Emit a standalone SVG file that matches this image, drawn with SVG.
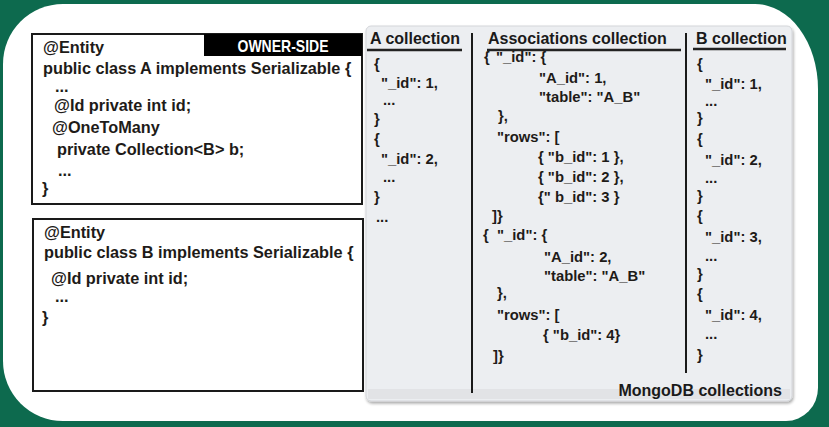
<svg xmlns="http://www.w3.org/2000/svg" width="829" height="427" viewBox="0 0 829 427">
<style>
.code{font-family:"Liberation Sans",Arial,sans-serif;font-weight:bold;font-size:16.3px;fill:#1e1b18}
.json{font-family:"Liberation Sans",Arial,sans-serif;font-weight:bold;font-size:14.8px;fill:#1e1b18}
.hdr{font-family:"Liberation Sans",Arial,sans-serif;font-weight:bold;font-size:16px;fill:#1a1a1a}
.box{fill:#fff;stroke:#1a1a1a;stroke-width:2}
.rule{stroke:#222;stroke-width:2.5}
.sep{stroke:#1a1a1a;stroke-width:2}
</style>
<defs>
<filter id="sh" x="-5%" y="-5%" width="110%" height="110%">
<feGaussianBlur in="SourceAlpha" stdDeviation="1.5"/>
<feOffset dx="1" dy="2"/>
<feComponentTransfer><feFuncA type="linear" slope="0.35"/></feComponentTransfer>
<feMerge><feMergeNode/><feMergeNode in="SourceGraphic"/></feMerge>
</filter>
</defs>
<rect width="829" height="427" fill="#0d6a4e"/>
<path d="M63,4 H755 A63 85 0 0 1 818 89 V388 A32 33 0 0 1 786 421 H63 A60 60 0 0 1 3 361 V64 A60 60 0 0 1 63 4 Z" fill="#fff"/>

<g id="classA">
<rect class="box" x="32" y="34" width="330" height="170"/>
<rect x="204" y="34" width="158" height="22" fill="#000"/>
<text x="283" y="52" text-anchor="middle" font-family="Liberation Sans Narrow,Liberation Sans,Arial,sans-serif" font-weight="bold" font-size="17" fill="#fff" textLength="91" lengthAdjust="spacingAndGlyphs">OWNER-SIDE</text>
<text class="code" x="43" y="53">@Entity</text>
<text class="code" x="43" y="74">public class A implements Serializable {</text>
<text class="code" x="55" y="92">...</text>
<text class="code" x="54" y="111">@Id private int id;</text>
<text class="code" x="52" y="133">@OneToMany</text>
<text class="code" x="57" y="155">private Collection&lt;B&gt; b;</text>
<text class="code" x="58" y="176">...</text>
<text class="code" x="42" y="194">}</text>
</g>

<g id="classB">
<rect class="box" x="33" y="219" width="330" height="172"/>
<text class="code" x="44" y="238">@Entity</text>
<text class="code" x="44" y="258">public class B implements Serializable {</text>
<text class="code" x="51" y="284">@Id private int id;</text>
<text class="code" x="55" y="302">...</text>
<text class="code" x="42" y="323">}</text>
</g>

<g id="mongo">
<rect x="366" y="26" width="426" height="375" rx="5" fill="#eceef1" stroke="#d4d6da" filter="url(#sh)"/>
<rect x="368" y="389" width="422" height="10" fill="#e2e3e6"/>
<text class="hdr" x="782" y="396" text-anchor="end" font-size="15.5">MongoDB collections</text>
</g>

<g id="connectors">
<line class="sep" x1="472" y1="33" x2="472" y2="393"/>
<line class="sep" x1="686" y1="33" x2="686" y2="373"/>
<line class="rule" x1="367" y1="50" x2="462" y2="50"/>
<line class="rule" x1="487" y1="50" x2="681" y2="50"/>
<line class="rule" x1="693" y1="49" x2="786" y2="49"/>
</g>

<g id="colA">
<text class="hdr" x="370" y="44">A collection</text>
<text class="json" x="374" y="69">{</text>
<text class="json" x="381" y="88">"_id": 1,</text>
<text class="json" x="383" y="105">...</text>
<text class="json" x="374" y="124">}</text>
<text class="json" x="374" y="144">{</text>
<text class="json" x="381" y="164">"_id": 2,</text>
<text class="json" x="383" y="182">...</text>
<text class="json" x="374" y="202">}</text>
<text class="json" x="376" y="222">...</text>
</g>

<g id="colAssoc">
<text class="hdr" x="488" y="44">Associations collection</text>
<text class="json" x="484" y="62">{<tspan x="496">"_id": {</tspan></text>
<text class="json" x="539" y="83">"A_id": 1,</text>
<text class="json" x="539" y="102">"table": "A_B"</text>
<text class="json" x="498" y="121">},</text>
<text class="json" x="497" y="142">"rows": [</text>
<text class="json" x="538" y="162">{ "b_id": 1 },</text>
<text class="json" x="538" y="182">{ "b_id": 2 },</text>
<text class="json" x="538" y="202">{" b_id": 3 }</text>
<text class="json" x="492" y="221">]}</text>
<text class="json" x="483" y="240">{<tspan x="497">"_id": {</tspan></text>
<text class="json" x="544" y="262">"A_id": 2,</text>
<text class="json" x="544" y="281">"table": "A_B"</text>
<text class="json" x="497" y="298">},</text>
<text class="json" x="497" y="320">"rows": [</text>
<text class="json" x="543" y="340">{ "b_id": 4}</text>
<text class="json" x="493" y="361">]}</text>
</g>

<g id="colB">
<text class="hdr" x="696" y="44">B collection</text>
<text class="json" x="697" y="69">{</text>
<text class="json" x="705" y="89">"_id": 1,</text>
<text class="json" x="705" y="106">...</text>
<text class="json" x="697" y="123">}</text>
<text class="json" x="697" y="144">{</text>
<text class="json" x="705" y="165">"_id": 2,</text>
<text class="json" x="705" y="183">...</text>
<text class="json" x="697" y="201">}</text>
<text class="json" x="697" y="221">{</text>
<text class="json" x="705" y="242">"_id": 3,</text>
<text class="json" x="705" y="261">...</text>
<text class="json" x="697" y="279">}</text>
<text class="json" x="697" y="299">{</text>
<text class="json" x="705" y="320">"_id": 4,</text>
<text class="json" x="705" y="339">...</text>
<text class="json" x="697" y="360">}</text>
</g>
</svg>
